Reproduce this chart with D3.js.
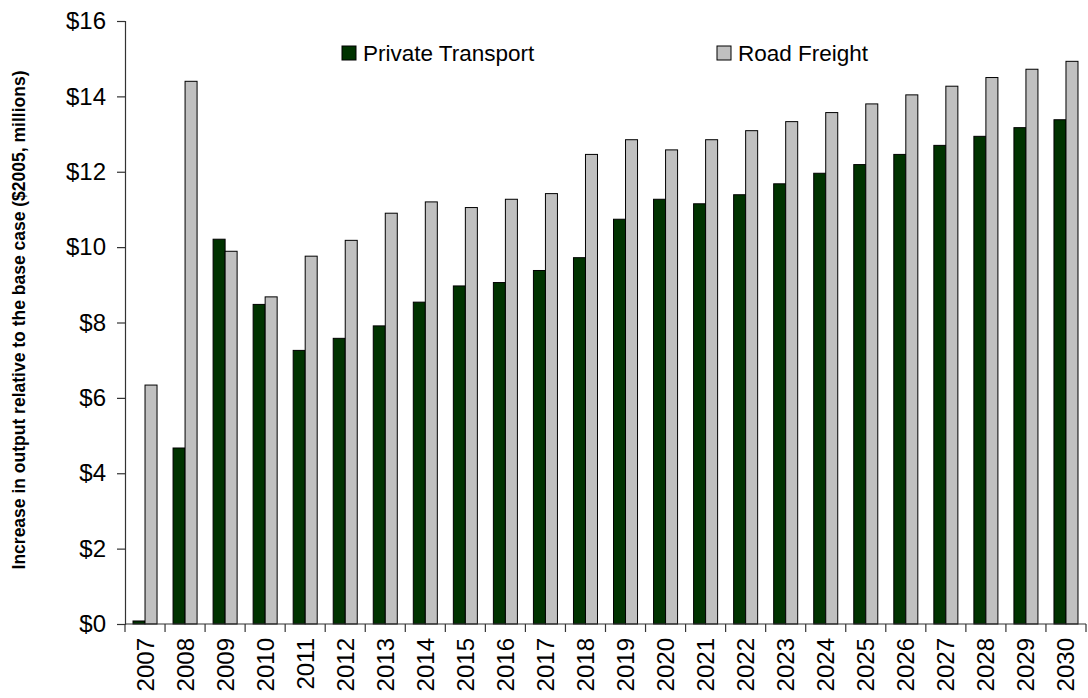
<!DOCTYPE html>
<html>
<head>
<meta charset="utf-8">
<script src="https://cdn.jsdelivr.net/npm/d3@7"></script>
<style>
  html, body { margin: 0; padding: 0; background: #fff; }
  svg { display: block; font-family: "Liberation Sans", Arial, sans-serif; }
</style>
</head>
<body>
<svg id="chart" width="1088" height="698"></svg>
<script>
const years = ["2007","2008","2009","2010","2011","2012","2013","2014","2015","2016","2017","2018","2019","2020","2021","2022","2023","2024","2025","2026","2027","2028","2029","2030"];
const privateTransport = [0.08, 4.67, 10.21, 8.48, 7.26, 7.58, 7.91, 8.54, 8.97, 9.06, 9.38, 9.72, 10.74, 11.27, 11.15, 11.39, 11.68, 11.96, 12.19, 12.46, 12.70, 12.94, 13.17, 13.38];
const roadFreight = [6.34, 14.40, 9.89, 8.68, 9.76, 10.18, 10.90, 11.20, 11.05, 11.27, 11.42, 12.46, 12.85, 12.58, 12.85, 13.09, 13.33, 13.57, 13.80, 14.04, 14.27, 14.50, 14.72, 14.93];
const seriesNames = ["Private Transport", "Road Freight"];
const seriesColors = ["#003300", "#c0c0c0"];
const yTicks = [0, 2, 4, 6, 8, 10, 12, 14, 16];

(function () {
const svg = d3.select("#chart");
const mLeft = 125, mRight = 1086, mTop = 21, mBottom = 624;

const x = d3.scaleBand().domain(years).range([mLeft, mRight]).paddingInner(0).paddingOuter(0);
const y = d3.scaleLinear().domain([0, 16]).range([mBottom, mTop]);
const inner = d3.scaleBand().domain([0, 1]).range([0, x.bandwidth()]).paddingInner(0).paddingOuter(0.667);

const data = years.map((yr, i) => ({ year: yr, values: [privateTransport[i], roadFreight[i]] }));

const g = svg.append("g");
const groups = g.selectAll("g.cat").data(data).join("g")
  .attr("class", "cat")
  .attr("transform", d => `translate(${x(d.year)},0)`);
groups.selectAll("rect").data(d => d.values.map((v, k) => ({ v, k }))).join("rect")
  .attr("x", d => inner(d.k))
  .attr("width", inner.bandwidth())
  .attr("y", d => y(d.v))
  .attr("height", d => y(0) - y(d.v))
  .attr("fill", d => seriesColors[d.k])
  .attr("stroke", "#000")
  .attr("stroke-width", 1);

// Y axis
const yAxis = d3.axisLeft(y).tickValues(yTicks).tickSize(8).tickPadding(11).tickFormat(d => "$" + d);
const yg = svg.append("g").attr("transform", `translate(${mLeft},0)`).call(yAxis);
yg.selectAll("path, line").attr("stroke", "#333").attr("stroke-width", 1.2);
yg.selectAll("text").attr("font-size", 24).attr("fill", "#000").attr("font-family", "Liberation Sans, Arial, sans-serif");

// X axis: line + ticks at category boundaries
const xg = svg.append("g");
xg.append("line").attr("x1", mLeft).attr("x2", mRight).attr("y1", mBottom).attr("y2", mBottom)
  .attr("stroke", "#333").attr("stroke-width", 1.2);
const bounds = years.map(yr => x(yr)).concat([mRight]);
xg.selectAll("line.tick").data(bounds).join("line").attr("class", "tick")
  .attr("x1", d => d).attr("x2", d => d).attr("y1", mBottom).attr("y2", mBottom + 8)
  .attr("stroke", "#333").attr("stroke-width", 1.2);
xg.selectAll("text").data(years).join("text")
  .attr("transform", d => `translate(${x(d) + x.bandwidth() / 2 + 8.5},${mBottom + 14}) rotate(-90)`)
  .attr("text-anchor", "end")
  .attr("font-size", 24)
  .attr("fill", "#000")
  .text(d => d);

// Y title
svg.append("text")
  .attr("transform", `translate(25,320) rotate(-90)`)
  .attr("text-anchor", "middle")
  .attr("font-size", 17.5)
  .attr("font-weight", "bold")
  .attr("fill", "#000")
  .text("Increase in output relative to the base case ($2005, millions)");

// Legend
const legendX = [342, 717];
const lg = svg.append("g");
seriesNames.forEach((name, k) => {
  lg.append("rect").attr("x", legendX[k]).attr("y", 46).attr("width", 14).attr("height", 14)
    .attr("fill", seriesColors[k]).attr("stroke", "#000").attr("stroke-width", 1);
  lg.append("text").attr("x", legendX[k] + 21).attr("y", 61)
    .attr("font-size", 22.5).attr("fill", "#000").text(name);
});
})();
</script>
</body>
</html>
